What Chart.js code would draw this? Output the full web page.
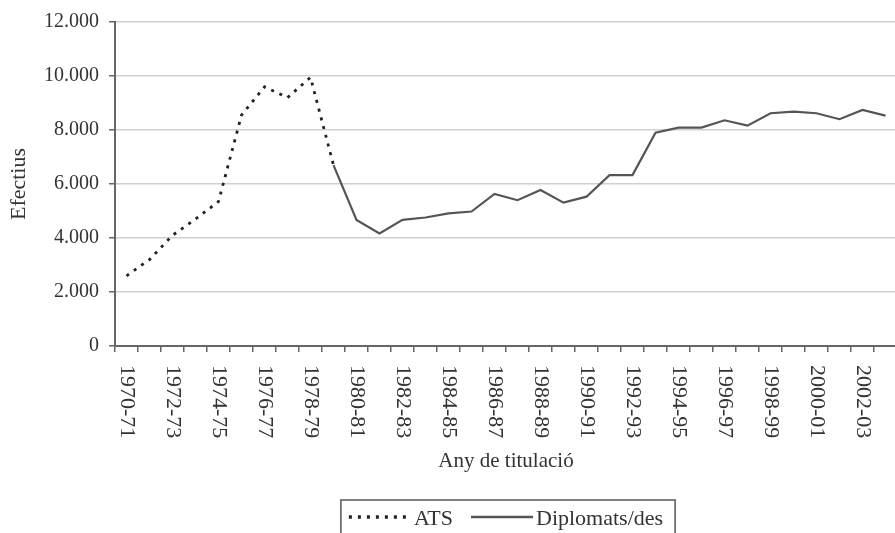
<!DOCTYPE html>
<html>
<head>
<meta charset="utf-8">
<script src="https://cdn.jsdelivr.net/npm/chart.js@4/dist/chart.umd.min.js"></script>
<style>
  html, body { margin: 0; padding: 0; background: #fff; overflow: hidden; }
  #wrap { width: 905px; height: 533px; }
</style>
</head>
<body>
<div id="wrap"><canvas id="myChart"></canvas></div>
<script>
// categories (any de titulació)
var years = ["1970-71", "1971-72", "1972-73", "1973-74", "1974-75", "1975-76", "1976-77", "1977-78",
    "1978-79", "1979-80", "1980-81", "1981-82", "1982-83", "1983-84", "1984-85", "1985-86",
    "1986-87", "1987-88", "1988-89", "1989-90", "1990-91", "1991-92", "1992-93", "1993-94",
    "1994-95", "1995-96", "1996-97", "1997-98", "1998-99", "1999-00", "2000-01", "2001-02",
    "2002-03", "2003-04"];

// ATS (dotted)
var atsValues = [2600, 3200, 4100, 4700, 5350, 8550, 9600, 9200, 9950, 6700,
    null, null, null, null, null, null, null, null, null, null, null, null,
    null, null, null, null, null, null, null, null, null, null, null, null];

// Diplomats/des (solid)
var diplValues = [null, null, null, null, null, null, null, null, null, 6700,
    4670, 4170, 4670, 4760, 4910, 4980, 5630, 5400, 5780, 5310, 5530, 6330,
    6330, 7900, 8090, 8090, 8360, 8160, 8620, 8680, 8620, 8400, 8740, 8530];

var yTicks = [0, 2000, 4000, 6000, 8000, 10000, 12000];

var serif = "'Liberation Serif', 'Times New Roman', serif";
var txt = "#333";
var axisCol = "#666";

var fmt = (v) => String(v).replace(/\B(?=(\d{3})+(?!\d))/g, ".");

// labels rotated clockwise + boxed legend
var extras = {
    id: "extras",
    afterDraw: (chart) => {
        var ctx = chart.ctx;
        var xs = chart.scales.x;
        ctx.save();
        ctx.fillStyle = txt;
        ctx.font = "22px " + serif;
        ctx.textAlign = "left";
        ctx.textBaseline = "middle";
        for (let i = 0; i < years.length; i += 2) {
            let x = xs.getPixelForValue(i);
            ctx.save();
            ctx.translate(x, xs.top + 19);
            ctx.rotate(Math.PI / 2);
            ctx.fillText(years[i], 0, 0);
            ctx.restore();
        }

        // legend
        var ds = chart.data.datasets;
        ctx.font = "22px " + serif;
        ctx.textBaseline = "alphabetic";
        var sample = 62;
        var gap = 18;
        var widths = ds.map(d => ctx.measureText(d.label).width);
        var total = 0;
        ds.forEach((d, i) => { total += sample + 3 + widths[i]; });
        total += gap * (ds.length - 1);
        var cx = (chart.chartArea.left + chart.chartArea.right) / 2;
        var x0 = cx - total / 2;
        var y = 517;
        ctx.strokeStyle = "#555";
        ctx.lineWidth = 1.5;
        ctx.strokeRect(x0 - 8, 500, total + 20, 60);
        var x = x0;
        ds.forEach((d, i) => {
            ctx.save();
            ctx.strokeStyle = d.borderColor;
            ctx.lineWidth = d.borderWidth + 0.5;
            ctx.setLineDash(d.borderDash || []);
            ctx.beginPath();
            ctx.moveTo(x, y);
            ctx.lineTo(x + sample, y);
            ctx.stroke();
            ctx.restore();
            x += sample + 3;
            ctx.fillText(d.label, x, 525);
            x += widths[i] + gap;
        });
        ctx.restore();
    }
};

var ctx = document.getElementById("myChart").getContext("2d");
var chart = new Chart(ctx, {
    type: "line",
    data: {
        labels: years,
        datasets: [{
            label: "ATS",
            data: atsValues,
            borderColor: "#222",
            borderWidth: 2.8,
            borderDash: [3, 6],
            pointRadius: 0,
            tension: 0,
            spanGaps: false
        }, {
            label: "Diplomats/des",
            data: diplValues,
            borderColor: "#555",
            borderWidth: 2.2,
            pointRadius: 0,
            tension: 0,
            spanGaps: false
        }]
    },
    options: {
        responsive: true,
        maintainAspectRatio: false,
        animation: false,
        events: [],
        layout: { padding: { top: 22, right: 8, bottom: 0, left: 0 } },
        plugins: {
            legend: { display: false },
            tooltip: { enabled: false }
        },
        scales: {
            x: {
                offset: true,
                afterFit: (s) => { s.height = 187; },
                grid: {
                    offset: true,
                    drawOnChartArea: false,
                    drawTicks: true,
                    tickLength: 6,
                    tickColor: axisCol,
                    lineWidth: 1.5
                },
                border: { color: axisCol, width: 2 },
                ticks: { display: false, autoSkip: false },
                title: {
                    display: true,
                    text: "Any de titulació",
                    color: txt,
                    font: { family: serif, size: 21 },
                    padding: { top: 0, bottom: 59 }
                }
            },
            y: {
                min: 0,
                max: 12000,
                afterFit: (s) => { s.width = 115; },
                afterBuildTicks: (s) => { s.ticks = yTicks.map(v => ({ value: v })); },
                grid: {
                    color: "#d0d0d0",
                    lineWidth: 1.5,
                    drawTicks: true,
                    tickLength: 6,
                    tickColor: axisCol
                },
                border: { color: axisCol, width: 2 },
                ticks: {
                    padding: 10,
                    color: txt,
                    font: { family: serif, size: 20 },
                    callback: (v) => fmt(v)
                },
                title: {
                    display: true,
                    text: "Efectius",
                    color: txt,
                    font: { family: serif, size: 22 },
                    padding: { top: 6, bottom: 0 }
                }
            }
        }
    },
    plugins: [extras]
});
</script>
</body>
</html>
